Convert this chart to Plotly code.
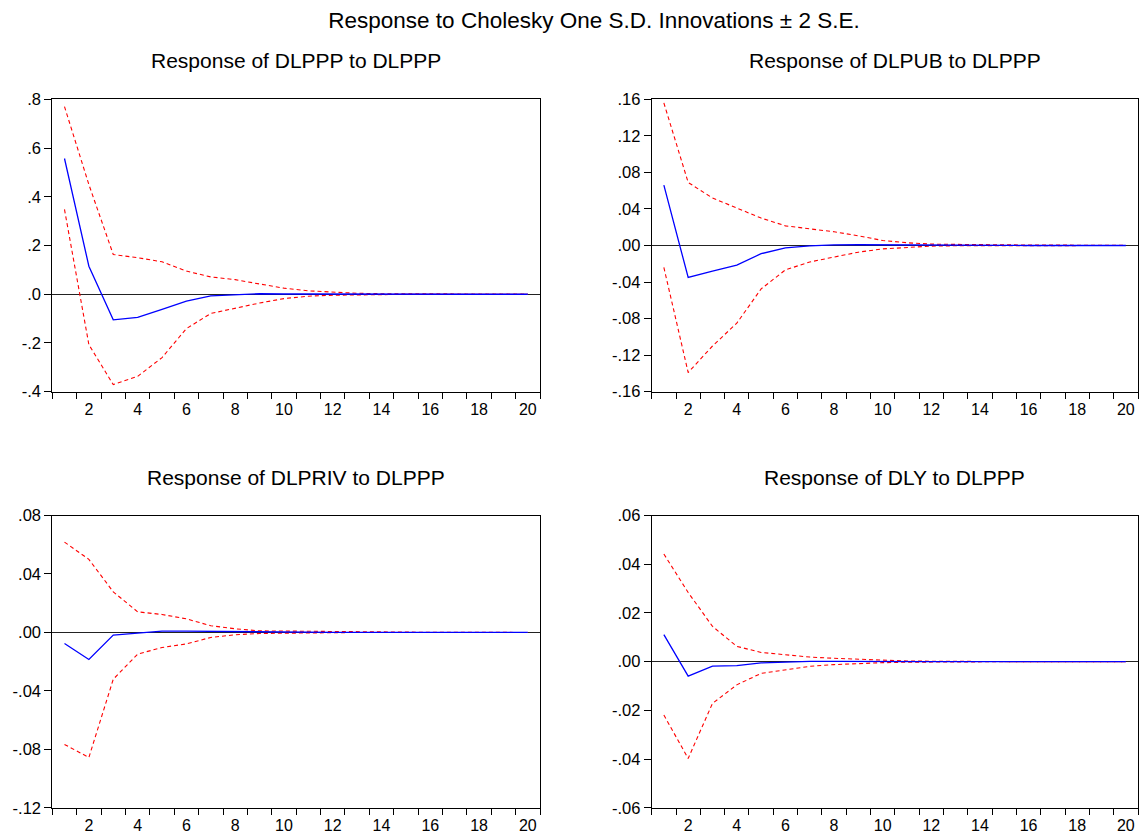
import plotly.graph_objects as go

# ---------------- data ----------------
periods = list(range(1, 21))
x_tick_vals = [2, 4, 6, 8, 10, 12, 14, 16, 18, 20]
x_tick_text = ["2", "4", "6", "8", "10", "12", "14", "16", "18", "20"]

main_title = "Response to Cholesky One S.D. Innovations ± 2 S.E."
panel_titles = [
    "Response of DLPPP to DLPPP",
    "Response of DLPUB to DLPPP",
    "Response of DLPRIV to DLPPP",
    "Response of DLY to DLPPP",
]

# Panel 1: DLPPP to DLPPP
dlppp_resp = [0.557, 0.115, -0.105, -0.095, -0.062, -0.028, -0.007, -0.001, 0.002, 0.001,
              0.0005, 0.0002, 0.0001, 0, 0, 0, 0, 0, 0, 0]
dlppp_upper = [0.77, 0.45, 0.163, 0.150, 0.133, 0.095, 0.071, 0.060, 0.042, 0.025,
               0.014, 0.008, 0.004, 0.002, 0.001, 0.001, 0.001, 0.001, 0.001, 0.001]
dlppp_lower = [0.348, -0.207, -0.371, -0.337, -0.26, -0.141, -0.079, -0.056, -0.036, -0.018,
               -0.008, -0.004, -0.002, -0.001, -0.0005, 0, 0, 0, 0, 0]
p1_yticks = [0.8, 0.6, 0.4, 0.2, 0.0, -0.2, -0.4]
p1_ytext = [".8", ".6", ".4", ".2", ".0", "-.2", "-.4"]

# Panel 2: DLPUB to DLPPP
dlpub_resp = [0.066, -0.035, -0.028, -0.0215, -0.009, -0.0025, -0.0004, 0.0007, 0.0008, 0.0006,
              0.0003, 0.0001, 0.0001, 0, 0, 0, 0, 0, 0, 0]
dlpub_upper = [0.156, 0.069, 0.052, 0.041, 0.030, 0.0215, 0.0186, 0.015, 0.0106, 0.0055,
               0.003, 0.0015, 0.0012, 0.0008, 0.0006, 0.0005, 0.0004, 0.0003, 0.0002, 0.0002]
dlpub_lower = [-0.024, -0.139, -0.110, -0.085, -0.0475, -0.0267, -0.018, -0.0124, -0.0073, -0.0037,
               -0.0018, -0.0007, -0.0003, -0.0002, -0.0001, 0, 0, 0, 0, 0]
p2_yticks = [0.16, 0.12, 0.08, 0.04, 0.0, -0.04, -0.08, -0.12, -0.16]
p2_ytext = [".16", ".12", ".08", ".04", ".00", "-.04", "-.08", "-.12", "-.16"]

# Panel 3: DLPRIV to DLPPP
dlpriv_resp = [-0.0075, -0.0185, -0.0018, -0.0005, 0.0009, 0.0009, 0.0007, 0.0005, 0.0003, 0.0002,
               0.0001, 0, 0, 0, 0, 0, 0, 0, 0, 0]
dlpriv_upper = [0.0618, 0.050, 0.0278, 0.0141, 0.0123, 0.0093, 0.0046, 0.0025, 0.0011, 0.0009,
                0.0007, 0.0004, 0.0002, 0.0002, 0.0001, 0.0001, 0.0001, 0, 0, 0]
dlpriv_lower = [-0.0766, -0.0855, -0.032, -0.0148, -0.0103, -0.0078, -0.0034, -0.0016, -0.0007, -0.0004,
                -0.0002, -0.0001, 0, 0, 0, 0, 0, 0, 0, 0]
p3_yticks = [0.08, 0.04, 0.0, -0.04, -0.08, -0.12]
p3_ytext = [".08", ".04", ".00", "-.04", "-.08", "-.12"]

# Panel 4: DLY to DLPPP
dly_resp = [0.0111, -0.0059, -0.0018, -0.0016, -0.0005, -0.0001, 0.0001, 0.0001, 0, 0,
            0, 0, 0, 0, 0, 0, 0, 0, 0, 0]
dly_upper = [0.0442, 0.0284, 0.0145, 0.0063, 0.0038, 0.0029, 0.0019, 0.0014, 0.0010, 0.0005,
             0.0003, 0.0002, 0.0001, 0.0001, 0.0001, 0, 0, 0, 0, 0]
dly_lower = [-0.0219, -0.0397, -0.0171, -0.0095, -0.0048, -0.0032, -0.0019, -0.0012, -0.0007, -0.0004,
             -0.0002, -0.0001, 0, 0, 0, 0, 0, 0, 0, 0]
p4_yticks = [0.06, 0.04, 0.02, 0.0, -0.02, -0.04, -0.06]
p4_ytext = [".06", ".04", ".02", ".00", "-.02", "-.04", "-.06"]

panels = [
    (dlppp_resp, dlppp_upper, dlppp_lower, p1_yticks, p1_ytext, [-0.4, 0.8]),
    (dlpub_resp, dlpub_upper, dlpub_lower, p2_yticks, p2_ytext, [-0.16, 0.16]),
    (dlpriv_resp, dlpriv_upper, dlpriv_lower, p3_yticks, p3_ytext, [-0.12, 0.08]),
    (dly_resp, dly_upper, dly_lower, p4_yticks, p4_ytext, [-0.06, 0.06]),
]

# ---------------- layout (pixels) ----------------
W, H = 1140, 834
col_px = [(52.3, 540.0), (651.7, 1138.0)]
row_px = [(99.3, 391.7), (515.5, 807.9)]
title_y_px = [61, 477]
FONT = "Liberation Sans, Arial, sans-serif"

fig = go.Figure()
layout_axes = {}
annotations = []

for i, (resp, up, lo, ytv, ytt, yr) in enumerate(panels):
    r, c = divmod(i, 2)
    n = i + 1
    xa = "x" if n == 1 else f"x{n}"
    ya = "y" if n == 1 else f"y{n}"
    for vals, color, dash, width in [(up, "#FF0000", "4px,3px", 1.1),
                                     (lo, "#FF0000", "4px,3px", 1.1),
                                     (resp, "#0000FF", "solid", 1.3)]:
        fig.add_trace(go.Scatter(x=periods, y=vals, mode="lines", xaxis=xa, yaxis=ya,
                                 line=dict(color=color, dash=dash, width=width),
                                 showlegend=False, hoverinfo="skip"))
    x0, x1 = col_px[c]
    t0, t1 = row_px[r]
    xkey = "xaxis" if n == 1 else f"xaxis{n}"
    ykey = "yaxis" if n == 1 else f"yaxis{n}"
    layout_axes[xkey] = dict(
        domain=[x0 / W, x1 / W], anchor=ya, range=[0.5, 20.5], automargin=False,
        tickmode="array", tickvals=x_tick_vals, ticktext=x_tick_text,
        ticks="outside", ticklen=3, tickcolor="rgba(0,0,0,0)",
        minor=dict(ticks="outside", tickmode="linear", tick0=0.5, dtick=1,
                   ticklen=6, tickcolor="black", tickwidth=1),
        showline=True, linecolor="black", linewidth=1, mirror=True,
        showgrid=False, zeroline=False,
        tickfont=dict(family=FONT, size=16, color="black"),
    )
    layout_axes[ykey] = dict(
        domain=[1 - t1 / H, 1 - t0 / H], anchor=xa, range=yr, automargin=False,
        tickmode="array", tickvals=ytv, ticktext=ytt,
        ticks="outside", ticklen=7, tickcolor="black",
        showline=True, linecolor="black", linewidth=1, mirror=True,
        showgrid=False, zeroline=True, zerolinecolor="#222", zerolinewidth=1,
        tickfont=dict(family=FONT, size=16.5, color="black"),
    )
    annotations.append(dict(
        text=panel_titles[i], xref="paper", yref="paper",
        x=(x0 + x1) / 2 / W, y=1 - title_y_px[r] / H,
        xanchor="center", yanchor="middle", showarrow=False,
        font=dict(family=FONT, size=21, color="black"),
    ))

fig.update_layout(
    width=W, height=H, autosize=False,
    margin=dict(l=0, r=0, t=0, b=0, pad=0, autoexpand=False),
    paper_bgcolor="white", plot_bgcolor="white",
    title=dict(text=main_title, x=594 / W, y=1 - 20 / H, xanchor="center", yanchor="middle",
               xref="paper", yref="paper", automargin=False,
               font=dict(family=FONT, size=22.5, color="black")),
    annotations=annotations,
    **layout_axes,
)

pin_to_corner = (
    "document.body.style.margin='0';document.body.style.padding='0';"
    "var gd=document.querySelector('.plotly-graph-div');"
    "gd.style.position='absolute';gd.style.top='0px';gd.style.left='0px';"
)
fig.write_html("out.html", config={"displayModeBar": False}, post_script=pin_to_corner)
